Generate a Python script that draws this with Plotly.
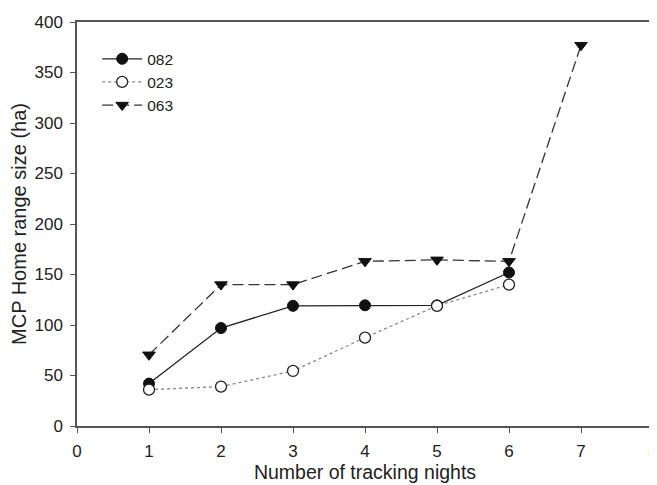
import plotly.graph_objects as go

nights = [1, 2, 3, 4, 5, 6, 7]
s082 = [42, 97, 119, 119.5, 119.5, 152]
s023 = [36, 39, 54.5, 87.5, 119, 140]
s063 = [70.5, 140, 140, 163, 164.5, 163, 377]

fig = go.Figure()
fig.add_trace(go.Scatter(x=nights[:len(s082)], y=s082, name="082", mode="lines+markers",
                         line=dict(color="#222", width=1.3, dash="solid"),
                         marker=dict(symbol="circle", size=11, color="#111", line=dict(color="#111", width=1))))
fig.add_trace(go.Scatter(x=nights[:len(s023)], y=s023, name="023", mode="lines+markers",
                         line=dict(color="#888", width=1.3, dash="dot"),
                         marker=dict(symbol="circle", size=11, color="white", line=dict(color="#222", width=1.3))))
fig.add_trace(go.Scatter(x=nights[:len(s063)], y=s063, name="063", mode="lines+markers",
                         line=dict(color="#333", width=1.3, dash="11px,5px"),
                         marker=dict(symbol="triangle-down", size=11, color="#111", line=dict(color="#111", width=1))))

# page body has an 8px margin, so the figure is sized to fit the 657x485 window
fig.update_layout(
    width=649, height=477,
    margin=dict(l=69, r=4, t=14, b=59),
    paper_bgcolor="white", plot_bgcolor="white",
    font=dict(family="Liberation Sans, Arial, sans-serif", size=17, color="#222"),
    showlegend=True,
    legend=dict(x=0.035, y=0.95, xanchor="left", yanchor="top", bgcolor="rgba(0,0,0,0)",
                font=dict(size=15.5), tracegroupgap=0, itemwidth=40),
    xaxis=dict(range=[0, 8], dtick=1, tick0=0, showgrid=False, zeroline=False,
               showline=True, linecolor="#555", linewidth=1.5, mirror=True,
               ticks="outside", ticklen=5, tickcolor="#555", automargin=False,
               tickfont=dict(size=17), ticklabelstandoff=4, ticklabeloverflow="allow",
               title=dict(text="Number of tracking nights", font=dict(size=19.5), standoff=4)),
    yaxis=dict(range=[0, 400], dtick=50, tick0=0, showgrid=False, zeroline=False,
               showline=True, linecolor="#555", linewidth=1.5, mirror=True,
               ticks="outside", ticklen=5, tickcolor="#555", automargin=False,
               tickfont=dict(size=17), ticklabelstandoff=4,
               title=dict(text="MCP Home range size (ha)", font=dict(size=20), standoff=6)),
)

fig.write_html("out.html")
